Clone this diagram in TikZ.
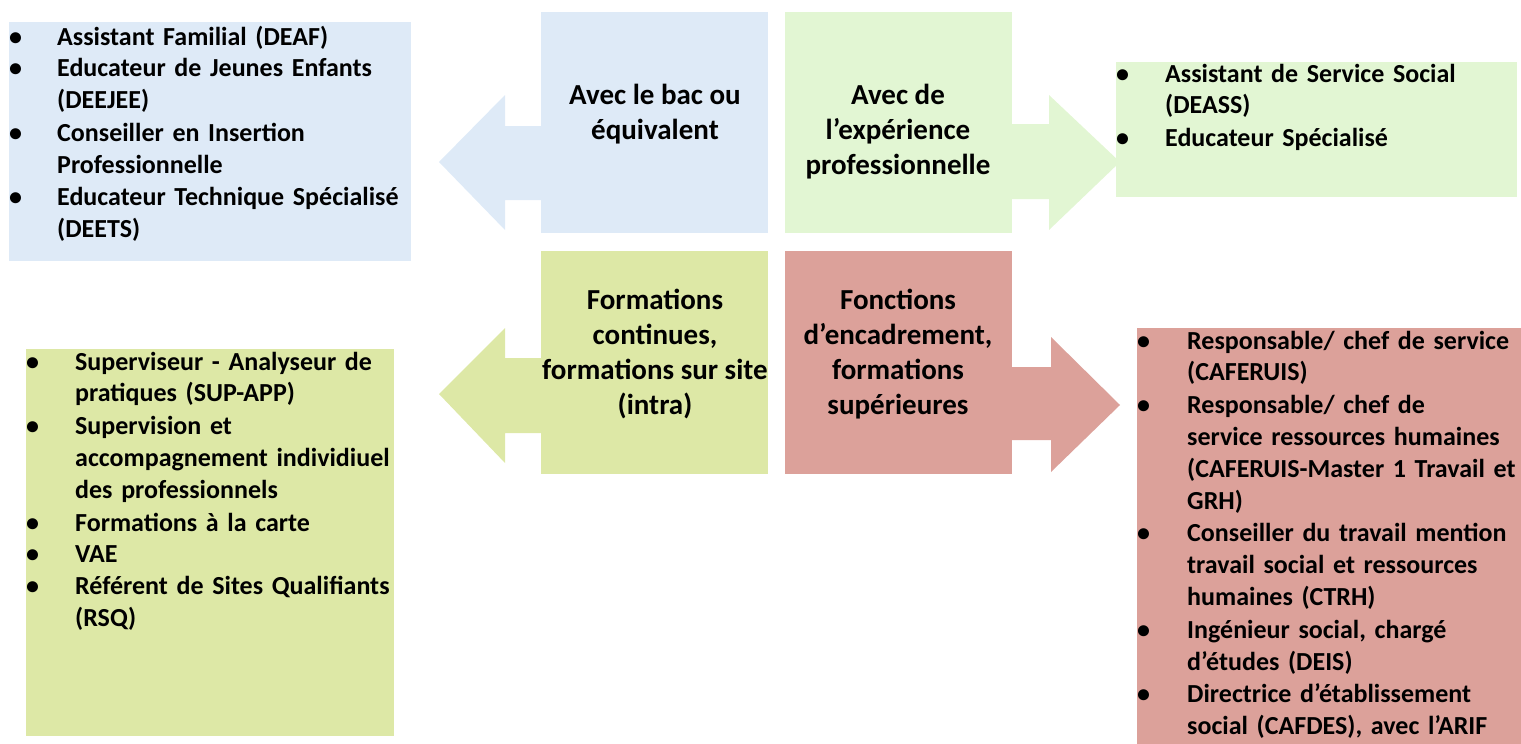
\documentclass[tikz,border=0pt]{standalone}
\usepackage{fontspec}
\setmainfont{Carlito}
\definecolor{blueF}{RGB}{222,234,247}
\definecolor{greenF}{RGB}{226,246,211}
\definecolor{yellowF}{RGB}{221,232,166}
\definecolor{redF}{RGB}{220,161,154}
\newcommand\bitem[2]{\noindent\makebox[#1][l]{\textbullet}\begin{tabular}[t]{@{}l@{}}#2\end{tabular}\par}
\tikzset{
  box/.style={draw=none, inner sep=0pt, anchor=north west},
  list/.style={inner sep=0pt, anchor=base west, text width=480pt, align=left,
    font=\bfseries\fontsize{26}{31.8}\selectfont},
  ctext/.style={inner sep=0pt, anchor=base, align=center,
    font=\bfseries\fontsize{29}{35}\selectfont},
}
\begin{document}
\begin{tikzpicture}[x=1pt,y=-1pt]
\useasboundingbox (0,0) rectangle (1521,744);
% arrows
\fill[blueF] (541,126) -- (505,126) -- (505,95) -- (439,162) -- (505,230) -- (505,200) -- (541,200) -- cycle;
\fill[greenF] (1012,124) -- (1049,124) -- (1049,95) -- (1120,162) -- (1049,230) -- (1049,199) -- (1012,199) -- cycle;
\fill[yellowF] (541,358) -- (505,358) -- (505,328) -- (439,394) -- (505,463) -- (505,433) -- (541,433) -- cycle;
\fill[redF] (1012,367) -- (1051,367) -- (1051,337) -- (1120,405) -- (1051,472) -- (1051,440) -- (1012,440) -- cycle;
% squares
\node[box, fill=blueF, minimum width=227pt, minimum height=221pt] (sqA) at (541,12) {};
\node[box, fill=greenF, minimum width=227pt, minimum height=221pt] (sqB) at (785,12) {};
\node[box, fill=yellowF, minimum width=227pt, minimum height=223pt] (sqC) at (541,251) {};
\node[box, fill=redF, minimum width=227pt, minimum height=223pt] (sqD) at (785,251) {};
% list boxes
\node[box, fill=blueF, minimum width=402pt, minimum height=239pt] (boxA) at (9,22) {};
\node[box, fill=greenF, minimum width=401pt, minimum height=135pt] (boxB) at (1116,62) {};
\node[box, fill=yellowF, minimum width=368pt, minimum height=387pt] (boxC) at (26,349) {};
\node[box, fill=redF, minimum width=384pt, minimum height=416pt] (boxD) at (1137,328) {};
% centre texts (anchored at the baseline of their last line)
\node[ctext] (tA) at (655,139) {Avec le bac ou\\équivalent};
\node[ctext] (tB) at (898,174) {Avec de\\l’expérience\\professionnelle};
\node[ctext] (tC) at (655,414) {Formations\\continues,\\formations sur site\\(intra)};
\node[ctext] (tD) at (898,414) {Fonctions\\d’encadrement,\\formations\\supérieures};
% lists
\node[list] (lA) at (9,45) {%
\bitem{48pt}{Assistant Familial (DEAF)}
\bitem{48pt}{Educateur de Jeunes Enfants\\(DEEJEE)}
\bitem{48pt}{Conseiller en Insertion\\Professionnelle}
\bitem{48pt}{Educateur Technique Spécialisé\\(DEETS)}};
\node[list] (lB) at (1116,82) {%
\bitem{49pt}{Assistant de Service Social\\(DEASS)}
\bitem{49pt}{Educateur Spécialisé}};
\node[list] (lC) at (26,370) {%
\bitem{49pt}{Superviseur - Analyseur de\\pratiques (SUP-APP)}
\bitem{49pt}{Supervision et\\accompagnement individiuel\\des professionnels}
\bitem{49pt}{Formations à la carte}
\bitem{49pt}{VAE}
\bitem{49pt}{Référent de Sites Qualifiants\\(RSQ)}};
\node[list] (lD) at (1137,349) {%
\bitem{50pt}{Responsable/ chef de service\\(CAFERUIS)}
\bitem{50pt}{Responsable/ chef de\\service ressources humaines\\(CAFERUIS-Master 1 Travail et\\GRH)}
\bitem{50pt}{Conseiller du travail mention\\travail social et ressources\\humaines (CTRH)}
\bitem{50pt}{Ingénieur social, chargé\\d’études (DEIS)}
\bitem{50pt}{Directrice d’établissement\\social (CAFDES), avec l’ARIF}};
\end{tikzpicture}
\end{document}
